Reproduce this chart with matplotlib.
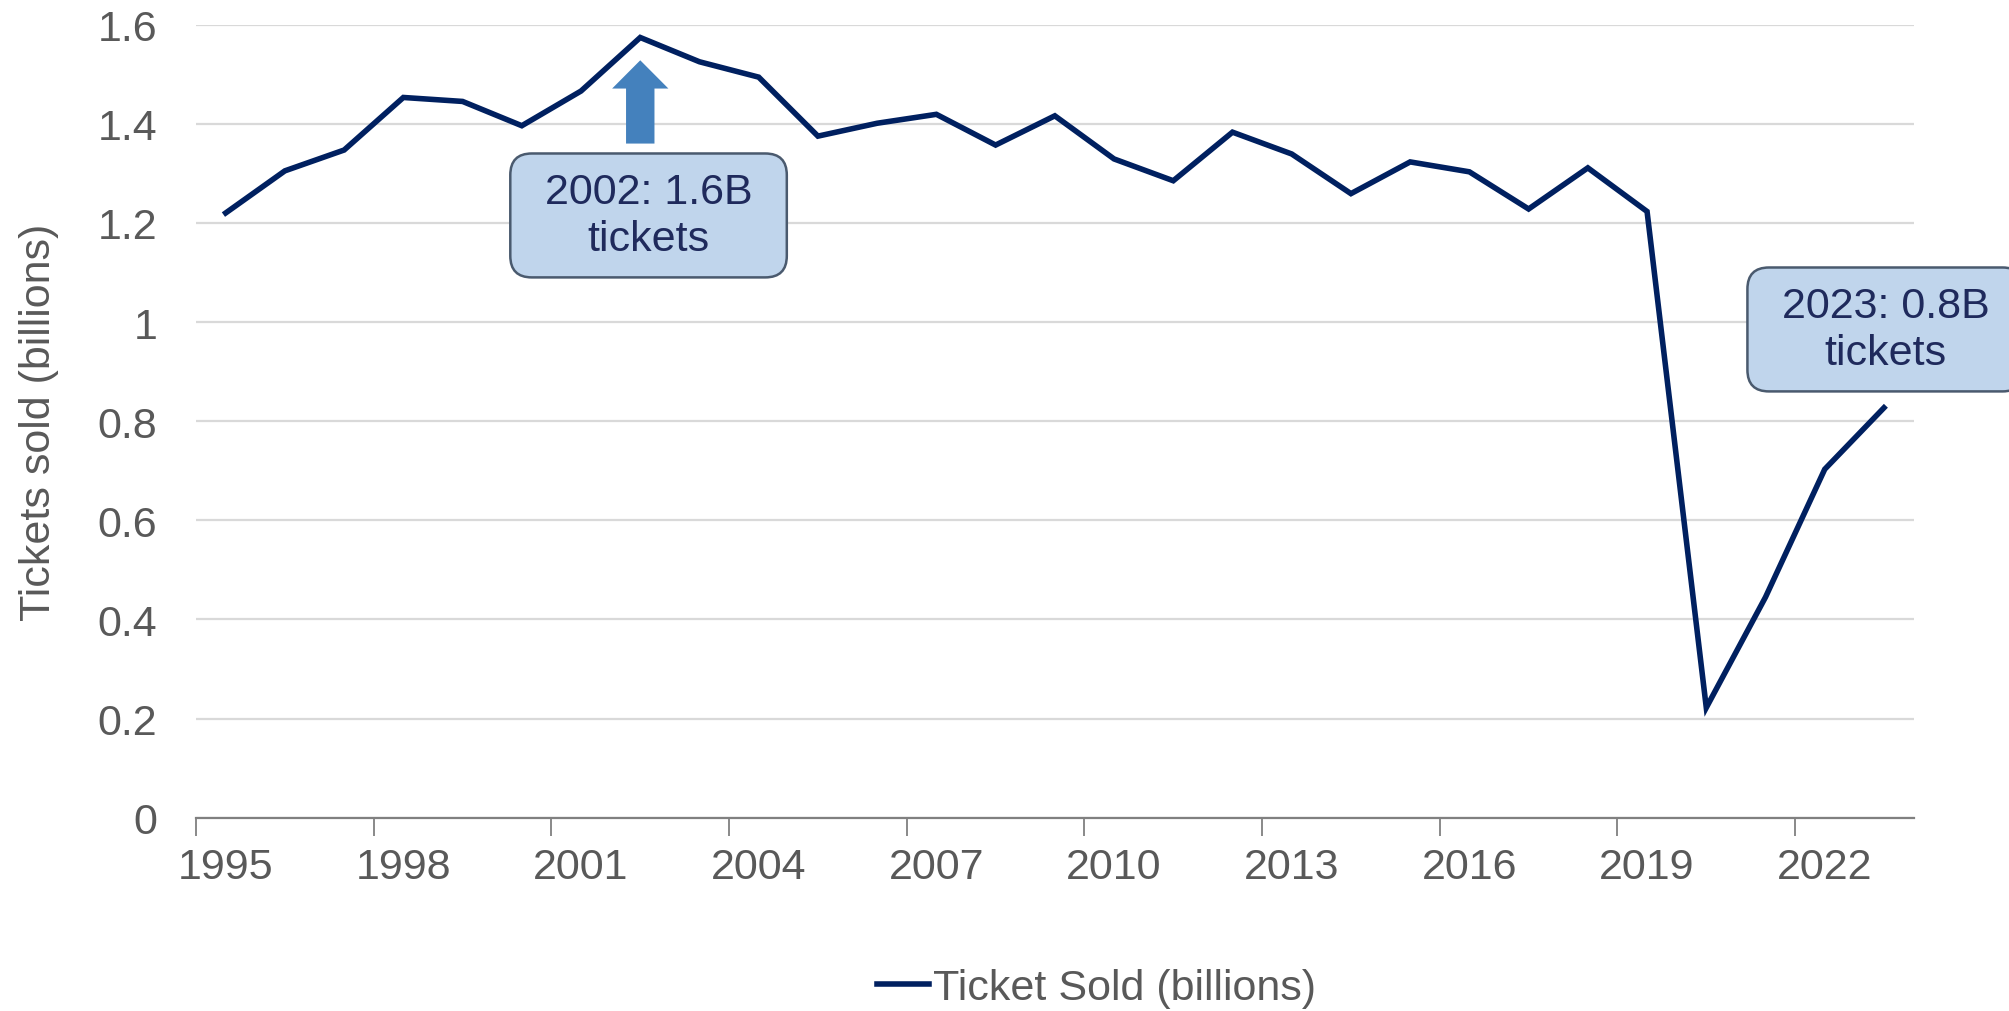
import matplotlib
matplotlib.use("Agg")
import matplotlib.pyplot as plt
from matplotlib.patches import FancyArrow, BoxStyle

years = list(range(1995, 2024))
tickets = [1.22, 1.305, 1.347, 1.453, 1.445, 1.396, 1.466, 1.574, 1.525, 1.494,
           1.375, 1.401, 1.419, 1.357, 1.416, 1.329, 1.285, 1.383, 1.339, 1.259,
           1.323, 1.303, 1.228, 1.311, 1.223, 0.222, 0.445, 0.703, 0.827]
y_ticks = [0, 0.2, 0.4, 0.6, 0.8, 1.0, 1.2, 1.4, 1.6]
y_tick_labels = ["0", "0.2", "0.4", "0.6", "0.8", "1", "1.2", "1.4", "1.6"]
series_name = "Ticket Sold (billions)"
y_label = "Tickets sold (billions)"
note_peak = "2002: 1.6B\ntickets"
note_last = "2023: 0.8B\ntickets"

plt.rcParams['font.family'] = ['Liberation Sans', 'DejaVu Sans']
FS = 31
GREY = "#595959"
NAVY = "#002060"


class PadBox:
    """Rounded box with separate horizontal / vertical padding."""
    def __init__(self, padx, pady, r):
        self.padx, self.pady, self.r = padx, pady, r

    def __call__(self, x0, y0, width, height, mutation_size):
        px = self.padx * mutation_size
        py = self.pady * mutation_size
        return BoxStyle.Round(pad=0, rounding_size=self.r)(
            x0 - px, y0 - py, width + 2 * px, height + 2 * py, mutation_size)


fig = plt.figure(figsize=(20.09, 10.12), dpi=100)
ax = fig.add_axes([0.0976, 0.191, 0.9525 - 0.0976, 0.9747 - 0.191])

x = list(range(len(years)))
ax.plot(x, tickets, color=NAVY, lw=4.0, solid_joinstyle='miter', label=series_name, zorder=3)

ax.set_xlim(-0.5, len(years) - 0.5)
ax.set_ylim(0, 1.6)
ax.set_yticks(y_ticks)
ax.set_yticklabels(y_tick_labels)
ax.yaxis.grid(True, color="#D9D9D9", lw=1.6)
ax.set_axisbelow(True)
ax.tick_params(axis='y', length=0, labelsize=FS, labelcolor=GREY, pad=28)

major = [i - 0.5 for i in range(0, len(years), 3)]
ax.set_xticks(major)
ax.set_xticklabels([])
label_pos = list(range(0, len(years), 3))
ax.set_xticks(label_pos, minor=True)
ax.set_xticklabels([str(years[i]) for i in label_pos], minor=True)
ax.tick_params(axis='x', which='major', length=13, width=1.3, color="#808080", direction='out')
ax.tick_params(axis='x', which='minor', length=0, labelsize=FS, labelcolor=GREY, pad=21)

for s in ['top', 'right', 'left']:
    ax.spines[s].set_visible(False)
ax.spines['bottom'].set_color("#808080")
ax.spines['bottom'].set_linewidth(1.6)

ax.set_ylabel(y_label, fontsize=FS, color=GREY, labelpad=28)

# arrow to peak
i_peak = years.index(2002)
arr = FancyArrow(i_peak, 1.36, 0, 0.168, width=0.48, head_width=0.95, head_length=0.057,
                 length_includes_head=True, color="#4481BD", lw=0, zorder=4)
ax.add_patch(arr)

box = dict(boxstyle=PadBox(0.8, 0.42, 0.5), fc="#C0D5EC", ec="#4A5A6E", lw=1.8)
ax.text(i_peak + 0.14, 1.215, note_peak, ha='center', va='center', fontsize=FS,
        color="#1F2A5C", bbox=box, zorder=5, linespacing=1.25)
ax.text(len(years) - 1 + 0.03, 0.985, note_last, ha='center', va='center', fontsize=FS,
        color="#1F2A5C", bbox=box, zorder=5, linespacing=1.25, clip_on=False)

fig.legend(loc='center', bbox_to_anchor=(0.546, 0.0227), frameon=False, fontsize=FS,
           handlelength=1.2, handletextpad=0.1, labelcolor=GREY)

fig.savefig("out.png", dpi=100)
